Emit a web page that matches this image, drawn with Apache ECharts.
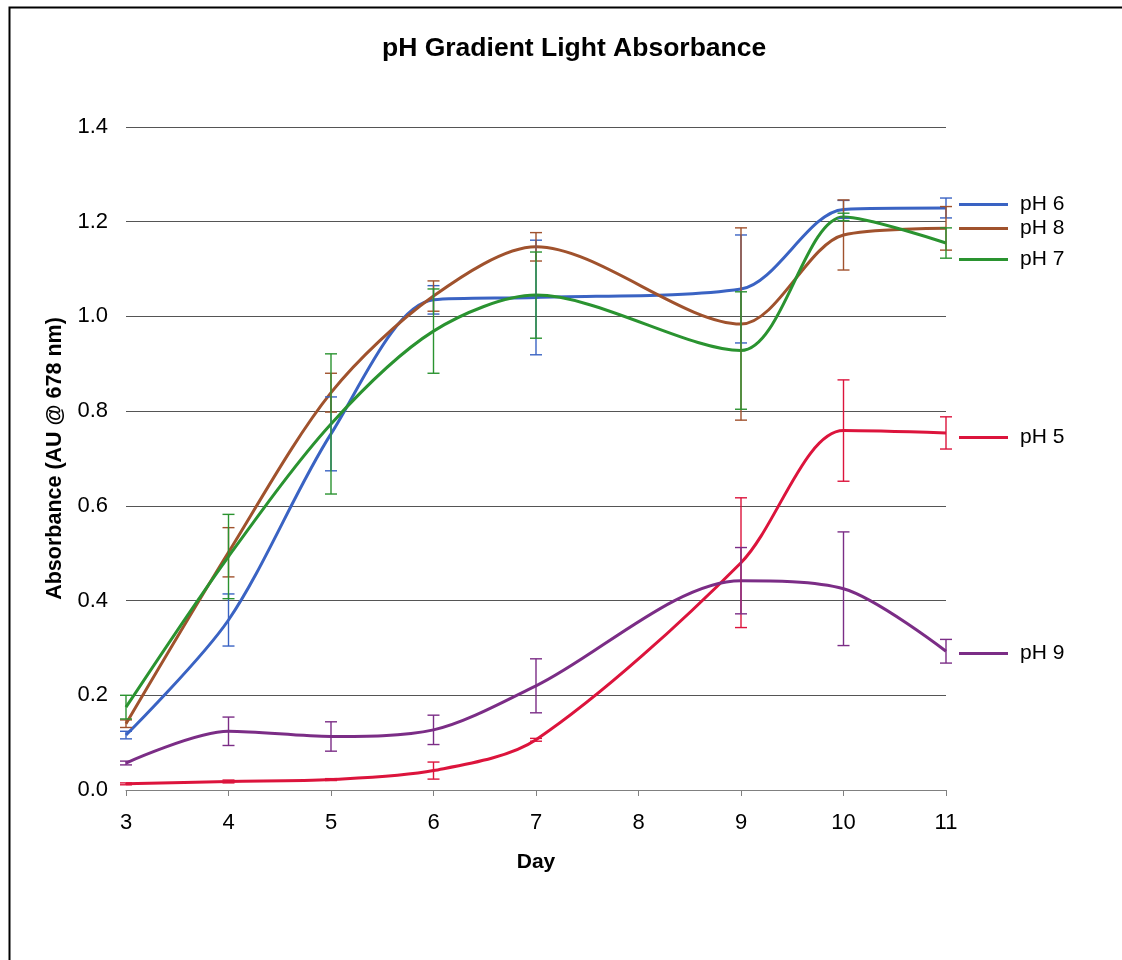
<!DOCTYPE html>
<html>
<head>
<meta charset="utf-8">
<title>pH Gradient Light Absorbance</title>
<script src="https://cdn.jsdelivr.net/npm/echarts@6/dist/echarts.min.js"></script>
<style>
  html, body { margin: 0; padding: 0; background: #fff; }
  #chart { width: 1122px; height: 960px; }
</style>
</head>
<body>
<div id="chart"></div>
<script>
// days with measurements (no reading on day 8)
const days = [3, 4, 5, 6, 7, 9, 10, 11]

// mean absorbance per pH, and +/- error
const ph6 = [0.116, 0.359, 0.752, 1.035, 1.040, 1.058, 1.226, 1.229]
const ph6Err = [0.008, 0.055, 0.078, 0.030, 0.121, 0.114, 0.019, 0.021]
const ph8 = [0.140, 0.502, 0.839, 1.043, 1.147, 0.984, 1.172, 1.186]
const ph8Err = [0.008, 0.052, 0.041, 0.032, 0.030, 0.203, 0.074, 0.046]
const ph7 = [0.175, 0.493, 0.773, 0.969, 1.045, 0.928, 1.210, 1.155]
const ph7Err = [0.025, 0.089, 0.148, 0.089, 0.091, 0.124, 0.008, 0.032]
const ph5 = [0.013, 0.018, 0.022, 0.041, 0.106, 0.480, 0.759, 0.754]
const ph5Err = [0.002, 0.003, 0.002, 0.018, 0.003, 0.137, 0.107, 0.034]
const ph9 = [0.057, 0.124, 0.113, 0.127, 0.220, 0.442, 0.425, 0.293]
const ph9Err = [0.004, 0.030, 0.031, 0.031, 0.057, 0.070, 0.120, 0.025]

const FONT = 'Arial, "Liberation Sans", sans-serif'

// name, values, errors, colour, legend row (px from top)
const groups = [
  { name: 'pH 6', vals: ph6, err: ph6Err, color: '#3a63c3', legendTop: 189 },
  { name: 'pH 8', vals: ph8, err: ph8Err, color: '#a0522d', legendTop: 213 },
  { name: 'pH 7', vals: ph7, err: ph7Err, color: '#2a9330', legendTop: 244 },
  { name: 'pH 5', vals: ph5, err: ph5Err, color: '#dc143c', legendTop: 422 },
  { name: 'pH 9', vals: ph9, err: ph9Err, color: '#7b2d86', legendTop: 638 }
]

function errorBarRenderer (color) {
  return function (params, api) {
    const x = api.value(0)
    const lo = api.coord([x, api.value(1)])
    const hi = api.coord([x, api.value(2)])
    const half = 6
    const style = { stroke: color, lineWidth: 1.4 }
    return {
      type: 'group',
      children: [
        { type: 'line', shape: { x1: lo[0], y1: lo[1], x2: hi[0], y2: hi[1] }, style: style },
        { type: 'line', shape: { x1: lo[0] - half, y1: lo[1], x2: lo[0] + half, y2: lo[1] }, style: style },
        { type: 'line', shape: { x1: hi[0] - half, y1: hi[1], x2: hi[0] + half, y2: hi[1] }, style: style }
      ]
    }
  }
}

const series = []
groups.forEach(g => {
  series.push({
    name: g.name,
    type: 'line',
    data: days.map((d, i) => [d, g.vals[i]]),
    smooth: 0.3,
    symbol: 'none',
    color: g.color,
    lineStyle: { color: g.color, width: 3 },
    z: 3
  })
  series.push({
    name: g.name,
    type: 'custom',
    data: days.map((d, i) => [d, g.vals[i] - g.err[i], g.vals[i] + g.err[i]]),
    renderItem: errorBarRenderer(g.color),
    encode: { x: 0, y: [1, 2] },
    z: 4
  })
})

const legends = groups.map(g => ({
  data: [g.name],
  left: 954,
  top: g.legendTop,
  orient: 'vertical',
  icon: 'rect',
  itemWidth: 49,
  itemHeight: 3,
  itemGap: 0,
  selectedMode: false,
  textStyle: { fontFamily: FONT, fontSize: 21, color: '#000', padding: [0, 0, 0, 7] }
}))

const option = {
  animation: false,
  backgroundColor: '#fff',
  title: {
    text: 'pH Gradient Light Absorbance',
    left: 377,
    top: 30,
    textStyle: { fontFamily: FONT, fontSize: 26.5, fontWeight: 'bold', color: '#000' }
  },
  legend: legends,
  grid: { left: 126, right: 176, top: 127, bottom: 170 },
  xAxis: {
    type: 'value',
    min: 3,
    max: 11,
    interval: 1,
    name: 'Day',
    nameLocation: 'middle',
    nameGap: 62,
    nameTextStyle: { fontFamily: FONT, fontSize: 21, fontWeight: 'bold', color: '#000' },
    axisLine: { show: true, lineStyle: { color: '#808080', width: 1 } },
    axisTick: { show: true, length: 6, lineStyle: { color: '#808080' } },
    axisLabel: { fontFamily: FONT, fontSize: 22, color: '#000', margin: 22 },
    splitLine: { show: false }
  },
  yAxis: {
    type: 'value',
    min: 0,
    max: 1.4,
    interval: 0.2,
    name: 'Absorbance (AU @ 678 nm)',
    nameLocation: 'middle',
    nameGap: 59,
    nameTextStyle: { fontFamily: FONT, fontSize: 21.5, fontWeight: 'bold', color: '#000' },
    axisLine: { show: false },
    axisTick: { show: false },
    axisLabel: {
      fontFamily: FONT,
      fontSize: 22,
      color: '#000',
      margin: 18,
      formatter: v => v.toFixed(1)
    },
    splitLine: { show: true, lineStyle: { color: '#555', width: 1 } }
  },
  graphic: [
    {
      type: 'rect',
      left: 7,
      top: 5,
      shape: { width: 1140, height: 1000 },
      style: { fill: 'none', stroke: '#000', lineWidth: 2 },
      silent: true
    }
  ],
  series: series
}

const chart = echarts.init(document.getElementById('chart'), null, { renderer: 'canvas' })
chart.setOption(option)
</script>
</body>
</html>
